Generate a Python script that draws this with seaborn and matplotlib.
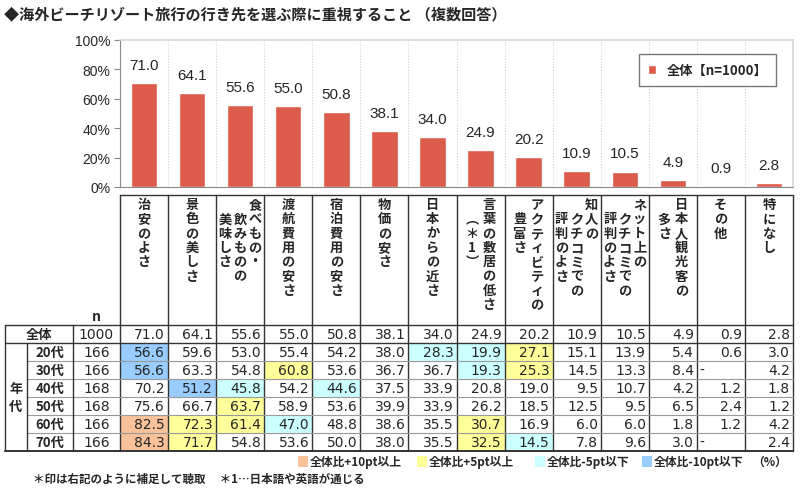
import numpy as np
import pandas as pd
import matplotlib.pyplot as plt
import seaborn as sns
from matplotlib.patches import Rectangle

# --- data -------------------------------------------------------------
title = '◆海外ビーチリゾート旅行の行き先を選ぶ際に重視すること （複数回答）'
items = ['治安のよさ', '景色の美しさ', '食べもの・飲みものの美味しさ', '渡航費用の安さ',
         '宿泊費用の安さ', '物価の安さ', '日本からの近さ', '言葉の敷居の低さ（＊１）',
         'アクティビティの豊富さ', '知人のクチコミでの評判のよさ', 'ネット上のクチコミでの評判のよさ',
         '日本人観光客の多さ', 'その他', '特になし']
# header text, one string per vertical column, right to left
header_cols = [['治安のよさ'], ['景色の美しさ'], ['食べもの・', '飲みものの', '美味しさ'],
               ['渡航費用の安さ'], ['宿泊費用の安さ'], ['物価の安さ'], ['日本からの近さ'],
               ['言葉の敷居の低さ', '︵＊1︶'], ['アクティビティの', '豊富さ'],
               ['知人の', 'クチコミでの', '評判のよさ'], ['ネット上の', 'クチコミでの', '評判のよさ'],
               ['日本人観光客の', '多さ'], ['その他'], ['特になし']]

total = [71.0, 64.1, 55.6, 55.0, 50.8, 38.1, 34.0, 24.9, 20.2, 10.9, 10.5, 4.9, 0.9, 2.8]
n_total = 1000

ages = ['20代', '30代', '40代', '50代', '60代', '70代']
n_ages = [166, 166, 168, 168, 166, 166]
v20 = [56.6, 59.6, 53.0, 55.4, 54.2, 38.0, 28.3, 19.9, 27.1, 15.1, 13.9, 5.4, 0.6, 3.0]
v30 = [56.6, 63.3, 54.8, 60.8, 53.6, 36.7, 36.7, 19.3, 25.3, 14.5, 13.3, 8.4, None, 4.2]
v40 = [70.2, 51.2, 45.8, 54.2, 44.6, 37.5, 33.9, 20.8, 19.0, 9.5, 10.7, 4.2, 1.2, 1.8]
v50 = [75.6, 66.7, 63.7, 58.9, 53.6, 39.9, 33.9, 26.2, 18.5, 12.5, 9.5, 6.5, 2.4, 1.2]
v60 = [82.5, 72.3, 61.4, 47.0, 48.8, 38.6, 35.5, 30.7, 16.9, 6.0, 6.0, 1.8, 1.2, 4.2]
v70 = [84.3, 71.7, 54.8, 53.6, 50.0, 38.0, 35.5, 32.5, 14.5, 7.8, 9.6, 3.0, None, 2.4]
age_rows = [v20, v30, v40, v50, v60, v70]

legend_labels = ['全体比+10pt以上', '全体比+5pt以上', '全体比-5pt以下', '全体比-10pt以下']
footnote = '＊印は右記のように補足して聴取　 ＊1…日本語や英語が通じる'

BAR = '#DB5C4A'
C_UP10, C_UP5, C_DN5, C_DN10 = '#F9C29A', '#FFFF99', '#CCFFFF', '#99CCFF'


def cell_color(v, t):
    if v is None:
        return None
    d = round(v - t, 1)
    if d >= 10:
        return C_UP10
    if d >= 5:
        return C_UP5
    if d <= -10:
        return C_DN10
    if d <= -5:
        return C_DN5
    return None


sns.set_style('white')
plt.rcParams['font.family'] = ['Noto Sans CJK JP', 'DejaVu Sans']

W, H = 800, 489
fig = plt.figure(figsize=(8, 4.89), dpi=100)

# --- bar chart ---------------------------------------------------------
x0, x1 = 120, 793
ytop, ybot = 41, 188
ax = fig.add_axes([x0 / W, 1 - ybot / H, (x1 - x0) / W, (ybot - ytop) / H])
df = pd.DataFrame({'item': items, 'pct': total})
sns.barplot(data=df, x='item', y='pct', color=BAR, width=0.55, saturation=1,
            ax=ax, label='全体【n=1000】')
ax.bar_label(ax.containers[0], fmt='%.1f', padding=8, fontsize=11,
             family=['Liberation Sans', 'DejaVu Sans'])
ax.set_xlim(-0.5, len(items) - 0.5)
ax.set_ylim(0, 100)
ax.set_yticks(range(0, 101, 20))
ax.set_yticklabels([f'{t}%' for t in range(0, 101, 20)], fontsize=10,
                   family=['Liberation Sans', 'DejaVu Sans'])
ax.set_xticks([])
ax.set_xlabel('')
ax.set_ylabel('')
for b in np.arange(0.5, len(items) - 0.5, 1):
    ax.axvline(b, color='#D0D0D0', lw=0.8, ls=(0, (1, 1.5)), zorder=0)
ax.tick_params(axis='y', left=True, length=4, width=0.8, color='#888888', pad=3)
for s in ['top', 'right']:
    ax.spines[s].set_color('#D5D5D5')
    ax.spines[s].set_linewidth(1.2)
ax.spines['left'].set_color('#888888')
ax.spines['bottom'].set_color('#888888')
leg = ax.legend(loc='upper right', bbox_to_anchor=(0.985, 0.95),
                frameon=True, fancybox=False, edgecolor='#555555',
                handlelength=0.6, handleheight=0.6, borderpad=0.7,
                prop={'weight': 'bold', 'size': 9.5})
leg.get_frame().set_linewidth(1.0)

# --- table -------------------------------------------------------------
ov = fig.add_axes([0, 0, 1, 1])
ov.set_xlim(0, W)
ov.set_ylim(H, 0)
ov.axis('off')

ncol = len(items)
cw = (x1 - x0) / ncol
col_edges = [x0 + i * cw for i in range(ncol + 1)]
head_top = 196
row_top = 326
rh = 18
row_edges = [row_top + i * rh for i in range(len(ages) + 2)]
tab_bot = row_edges[-1]
xl, xa, xn = 5, 27, 73
dark = '#333333'

# highlighted cells
for r, vals in enumerate(age_rows):
    for c, v in enumerate(vals):
        col = cell_color(v, total[c])
        if col:
            ov.add_patch(Rectangle((col_edges[c], row_edges[r + 1]), cw, rh,
                                   facecolor=col, edgecolor='none', zorder=1))

# lines
lw = 1.0
ov.plot([x0, x1], [head_top, head_top], color=dark, lw=lw)
for x in col_edges:
    ov.plot([x, x], [head_top, tab_bot], color=dark, lw=lw)
ov.plot([xl, x1], [row_top, row_top], color=dark, lw=lw)
ov.plot([xl, x1], [row_edges[1], row_edges[1]], color=dark, lw=lw)
for y in row_edges[2:-1]:
    ov.plot([xa, x1], [y, y], color='#999999', lw=0.8)
ov.plot([xl, x1], [tab_bot, tab_bot], color=dark, lw=1.4)
ov.plot([xl, xl], [row_top, tab_bot], color=dark, lw=lw)
ov.plot([xa, xa], [row_edges[1], tab_bot], color=dark, lw=lw)
ov.plot([xn, xn], [row_top, tab_bot], color=dark, lw=lw)

# vertical header text
fs_h = 9.5
pitch_y = 14.3
first_y = 205
for c, cols in enumerate(header_cols):
    cx = (col_edges[c] + col_edges[c + 1]) / 2
    n = len(cols)
    px = 15 if n > 2 else 17
    for k, line in enumerate(cols):
        lx = cx + (n - 1) / 2 * px - k * px
        y = first_y + (pitch_y if k > 0 else 0)
        for ch in line:
            ov.text(lx, y, ch, ha='center', va='center', fontsize=fs_h, fontweight='bold')
            y += pitch_y

# row labels and values
fs_v = 10
numfont = ['DejaVu Sans']
ov.text((xn + x0) / 2, 317, 'n', ha='center', va='center', fontsize=10, fontweight='bold')
ymid = (row_edges[0] + row_edges[1]) / 2
ov.text((xl + xn) / 2, ymid, '全体', ha='center', va='center', fontsize=9.5, fontweight='bold')
ov.text((xn + x0) / 2, ymid, str(n_total), ha='center', va='center', fontsize=fs_v, family=numfont)
for c, v in enumerate(total):
    ov.text(col_edges[c + 1] - 3, ymid, f'{v:.1f}', ha='right', va='center',
            fontsize=fs_v, family=numfont)
ymid_age = (row_edges[1] + tab_bot) / 2
ov.text((xl + xa) / 2, ymid_age - 9, '年', ha='center', va='center', fontsize=9.5, fontweight='bold')
ov.text((xl + xa) / 2, ymid_age + 9, '代', ha='center', va='center', fontsize=9.5, fontweight='bold')
for r, (lab, nn, vals) in enumerate(zip(ages, n_ages, age_rows)):
    ym = row_edges[r + 1] + rh / 2
    ov.text((xa + xn) / 2, ym, lab, ha='center', va='center', fontsize=9.5, fontweight='bold')
    ov.text((xn + x0) / 2, ym, str(nn), ha='center', va='center', fontsize=fs_v, family=numfont)
    for c, v in enumerate(vals):
        if v is None:
            ov.text(col_edges[c] + 3, ym, '-', ha='left', va='center', fontsize=fs_v, family=numfont)
        else:
            ov.text(col_edges[c + 1] - 3, ym, f'{v:.1f}', ha='right', va='center',
                    fontsize=fs_v, family=numfont)

# colour legend
leg_y = 462
leg_x = [298, 417, 535, 642]
for lx, lab, col in zip(leg_x, legend_labels, [C_UP10, C_UP5, C_DN5, C_DN10]):
    ov.add_patch(Rectangle((lx, leg_y - 5.5), 10, 11, facecolor=col, edgecolor='none'))
    ov.text(lx + 12, leg_y, lab, ha='left', va='center', fontsize=8.5, fontweight='bold')
ov.text(770, leg_y, '（%）', ha='center', va='center', fontsize=8.5, fontweight='bold')

ov.text(33, 479, footnote, ha='left', va='center', fontsize=8.3, fontweight='bold')
ov.text(4, 14, title, ha='left', va='center', fontsize=10.9, fontweight='bold')

fig.savefig('out.png', dpi=100)
